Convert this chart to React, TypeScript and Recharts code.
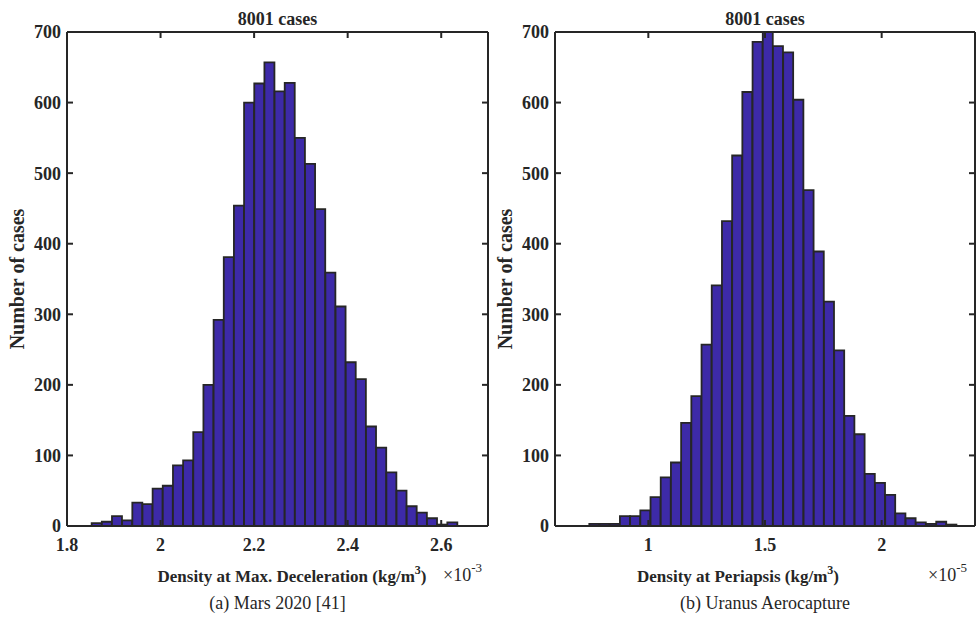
import { BarChart, Bar, XAxis, YAxis } from "recharts";

// histogram bin centres and counts per bin
const marsBinCenters = [
  1.8636, 1.8853, 1.907, 1.9287, 1.9505, 1.9722, 1.9939, 2.0156, 2.0374, 2.0591,
  2.0808, 2.1025, 2.1243, 2.146, 2.1677, 2.1894, 2.2112, 2.2329, 2.2546, 2.2763,
  2.2981, 2.3198, 2.3415, 2.3632, 2.385, 2.4067, 2.4284, 2.4501, 2.4719, 2.4936,
  2.5153, 2.537, 2.5588, 2.5805, 2.6022, 2.6239,
];
const marsCounts = [
  4, 6, 14, 8, 33, 31, 53, 57, 86, 93,
  133, 200, 292, 381, 454, 600, 627, 657, 616, 628,
  550, 513, 449, 359, 311, 232, 208, 141, 111, 76,
  50, 28, 19, 11, 2, 5,
];

const uranusBinCenters = [
  0.7689, 0.8126, 0.8563, 0.9001, 0.9438, 0.9875, 1.0313, 1.075, 1.1187, 1.1624,
  1.2062, 1.2499, 1.2936, 1.3374, 1.3811, 1.4248, 1.4686, 1.5123, 1.556, 1.5997,
  1.6435, 1.6872, 1.7309, 1.7747, 1.8184, 1.8621, 1.9059, 1.9496, 1.9933, 2.037,
  2.0808, 2.1245, 2.1682, 2.212, 2.2557, 2.2994,
];
const uranusCounts = [
  3, 3, 3, 14, 14, 22, 41, 69, 90, 146,
  184, 257, 341, 432, 525, 615, 686, 700, 680, 671,
  604, 476, 389, 318, 249, 156, 130, 74, 61, 44,
  18, 11, 5, 3, 6, 2,
];

const countTicks = [0, 100, 200, 300, 400, 500, 600, 700];
const marsTicks = [1.8, 2, 2.2, 2.4, 2.6];
const uranusTicks = [1, 1.5, 2];

const FONT = '"Liberation Serif", "Times New Roman", serif';
const INK = "#262626";
const FILL = "#3d2aa8";
const H = 618;

const tickFont = { fill: INK, fontFamily: FONT, fontWeight: 700, fontSize: 18 };
const blank = () => "";

function HistPanel({
  left,
  width,
  rightMargin,
  centers,
  counts,
  domain,
  ticks,
  label,
  labelX,
  exponent,
  expX,
  caption,
}: {
  left: number;
  width: number;
  rightMargin: number;
  centers: number[];
  counts: number[];
  domain: [number, number];
  ticks: number[];
  label: string;
  labelX: number;
  exponent: string;
  expX: number;
  caption: string;
}) {
  const data = centers.map((x, i) => ({ x, n: counts[i] }));
  // plot box: x 67 .. width-rightMargin-1, y 32 .. 526
  const midX = (67 + (width - rightMargin - 1)) / 2;

  return (
    <div style={{ position: "absolute", left, top: 0, width, height: H }}>
      <BarChart
        width={width}
        height={H}
        data={data}
        margin={{ top: 31, right: rightMargin, bottom: 62, left: 27 }}
        barCategoryGap={0}
        barGap={0}
      >
        <XAxis
          xAxisId="b"
          dataKey="x"
          type="number"
          domain={domain}
          ticks={ticks}
          allowDataOverflow
          interval={0}
          height={30}
          tickSize={-6}
          tickMargin={18}
          stroke={INK}
          strokeWidth={2}
          tick={tickFont}
        />
        {/* mirrored top / right axes close the box and carry inward ticks */}
        <XAxis
          xAxisId="t"
          orientation="top"
          dataKey="x"
          type="number"
          domain={domain}
          ticks={ticks}
          allowDataOverflow
          interval={0}
          height={1}
          tickSize={-6}
          stroke={INK}
          strokeWidth={2}
          tickFormatter={blank}
        />
        <YAxis
          yAxisId="l"
          type="number"
          domain={[0, 700]}
          ticks={countTicks}
          allowDataOverflow
          interval={0}
          width={40}
          tickSize={-6}
          tickMargin={12}
          stroke={INK}
          strokeWidth={2}
          tick={tickFont}
        />
        <YAxis
          yAxisId="r"
          orientation="right"
          dataKey="n"
          type="number"
          domain={[0, 700]}
          ticks={countTicks}
          allowDataOverflow
          interval={0}
          width={1}
          tickSize={-6}
          stroke={INK}
          strokeWidth={2}
          tickFormatter={blank}
        />
        <Bar
          xAxisId="b"
          yAxisId="l"
          dataKey="n"
          fill={FILL}
          stroke={INK}
          strokeWidth={1.8}
          isAnimationActive={false}
        />
      </BarChart>
      <svg
        width={width}
        height={H}
        style={{ position: "absolute", left: 0, top: 0, pointerEvents: "none" }}
        fontFamily={FONT}
        fill={INK}
      >
        <text x={midX} y={25} textAnchor="middle" fontWeight={700} fontSize={18}>
          8001 cases
        </text>
        <text transform="translate(24, 279) rotate(-90)" textAnchor="middle" fontWeight={700} fontSize={20}>
          Number of cases
        </text>
        <text x={labelX} y={582} textAnchor="middle" fontWeight={700} fontSize={17}>
          {label}
          <tspan dy={-8} fontSize={12}>3</tspan>
          <tspan dy={8}>)</tspan>
        </text>
        <text x={expX} y={581} fontSize={18}>
          ×10
          <tspan dy={-9} fontSize={13}>{exponent}</tspan>
        </text>
        <text x={midX} y={609} textAnchor="middle" fontSize={18}>
          {caption}
        </text>
      </svg>
    </div>
  );
}

export default function App() {
  return (
    <div
      style={{
        position: "absolute",
        left: 0,
        top: 0,
        width: 977,
        height: H,
        overflow: "hidden",
        background: "#fff",
      }}
    >
      <HistPanel
        left={0}
        width={500}
        rightMargin={11}
        centers={marsBinCenters}
        counts={marsCounts}
        domain={[1.8, 2.7]}
        ticks={marsTicks}
        label="Density at Max. Deceleration (kg/m"
        labelX={292}
        exponent="-3"
        expX={443}
        caption="(a)  Mars 2020 [41]"
      />
      <HistPanel
        left={488}
        width={489}
        rightMargin={1}
        centers={uranusBinCenters}
        counts={uranusCounts}
        domain={[0.6, 2.4]}
        ticks={uranusTicks}
        label="Density at Periapsis (kg/m"
        labelX={250}
        exponent="-5"
        expX={440}
        caption="(b)  Uranus Aerocapture"
      />
    </div>
  );
}
